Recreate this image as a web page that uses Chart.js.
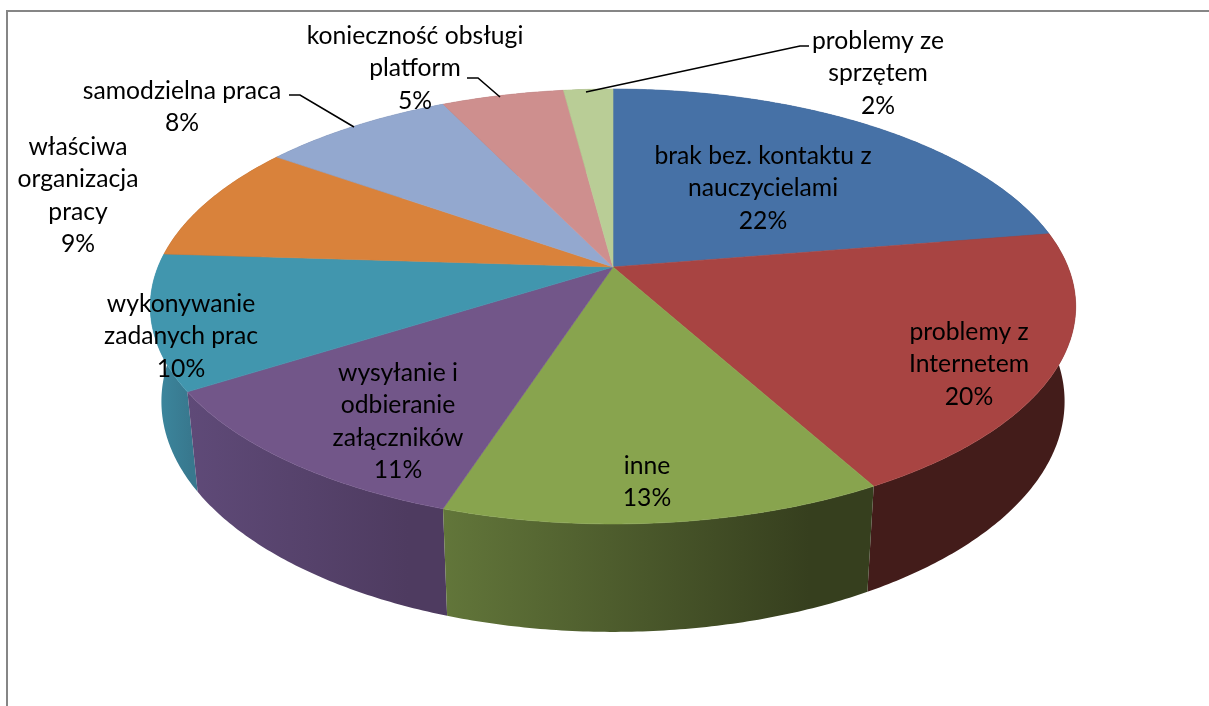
<!DOCTYPE html>
<html>
<head>
<meta charset="utf-8">
<title>Wykres</title>
<script src="https://cdn.jsdelivr.net/npm/chart.js@4"></script>
<style>
    html, body { margin: 0; padding: 0; background: #fff; overflow: hidden; }
    #frame { position: absolute; left: 6px; top: 10px; width: 1203px; height: 696px; border-top: 2px solid #868686; border-left: 2px solid #868686; box-sizing: border-box; }
    canvas { position: absolute; left: 0; top: 0; }
</style>
</head>
<body>
<div id="frame"></div>
<canvas id="chart" width="1209" height="706"></canvas>
<script>
const categories = [
    'brak bez. kontaktu z nauczycielami',
    'problemy z Internetem',
    'inne',
    'wysyłanie i odbieranie załączników',
    'wykonywanie zadanych prac',
    'właściwa organizacja pracy',
    'samodzielna praca',
    'konieczność obsługi platform',
    'problemy ze sprzętem'
];
// labels round these to whole percents
const percents = [22.4, 19.6, 13, 11, 10, 8.8, 8.05, 5.1, 2.05];

const topColors = ['#4671a6', '#a84442', '#88a44e', '#725689', '#4196ae', '#d9823b', '#93a8cf', '#ce8f8e', '#b9cd96'];
// side wall shading, left to right
const wallLeft = ['#2b4565', '#431c1a', '#62763a', '#5f4a78', '#3d8aa1', '#8a5225', '#5d6b84', '#835b5a', '#75825f'];
const wallRight = ['#2b4565', '#431c1a', '#363f1e', '#4e3b60', '#38788e', '#8a5225', '#5d6b84', '#835b5a', '#75825f'];

// label text is wrapped the same way as the original
const labelLines = [
    ['brak bez. kontaktu z', 'nauczycielami'],
    ['problemy z', 'Internetem'],
    ['inne'],
    ['wysyłanie i', 'odbieranie', 'załączników'],
    ['wykonywanie', 'zadanych prac'],
    ['właściwa', 'organizacja', 'pracy'],
    ['samodzielna praca'],
    ['konieczność obsługi', 'platform'],
    ['problemy ze', 'sprzętem']
];
// [center x, first line y]
const labelSpots = [[763, 156], [969, 332], [647, 466], [398, 373], [181, 304], [78, 147], [182, 91], [415, 36], [878, 41]];
const leaders = [
    [[289, 95], [300, 95], [354, 127]],
    [[467, 78], [478, 78], [500, 97]],
    [[809, 46], [800, 46], [586, 92]]
];

// perspective of the disc, fitted to the picture
const apexX = 613, apexY = 267, spreadX = 455, spreadY = 210.3, tilt = 0.1816;
const LINE_HEIGHT = 32.4;

function project(angle) {
    const x = Math.cos(angle), y = -Math.sin(angle);
    const d = 1 + tilt * y;
    return [apexX + spreadX * x / d, apexY - spreadY * y / d];
}

function lower(p) {
    return [apexX + 0.976 * (p[0] - apexX), 1.06 * p[1] + 76.5];
}

function rim(start, end) {
    const pts = [];
    const n = Math.max(2, Math.ceil((end - start) / 0.01));
    for (let i = 0; i <= n; i++) {
        pts.push(project(start + (end - start) * i / n));
    }
    return pts;
}

const pie3d = {
    id: 'pie3d',
    beforeDatasetsDraw(chart) {
        const ctx = chart.ctx;
        const arcs = chart.getDatasetMeta(0).data;

        // walls first, far slices before near ones
        const order = arcs.map((a, i) => i).sort((a, b) =>
            Math.sin((arcs[a].startAngle + arcs[a].endAngle) / 2) - Math.sin((arcs[b].startAngle + arcs[b].endAngle) / 2));
        order.forEach(i => {
            const pts = rim(arcs[i].startAngle, arcs[i].endAngle);
            const low = pts.map(lower);
            const xs = pts.concat(low).map(p => p[0]);
            const x0 = Math.min(...xs), x1 = Math.max(...xs);
            const g = ctx.createLinearGradient(x0, 0, x1, 0);
            g.addColorStop(0, wallLeft[i]);
            g.addColorStop(0.85, wallRight[i]);
            g.addColorStop(1, wallRight[i]);
            ctx.beginPath();
            pts.forEach((p, k) => k ? ctx.lineTo(p[0], p[1]) : ctx.moveTo(p[0], p[1]));
            low.reverse().forEach(p => ctx.lineTo(p[0], p[1]));
            ctx.closePath();
            ctx.fillStyle = g;
            ctx.fill();
        });

        // top faces
        arcs.forEach((arc, i) => {
            ctx.beginPath();
            ctx.moveTo(apexX, apexY);
            rim(arc.startAngle, arc.endAngle).forEach(p => ctx.lineTo(p[0], p[1]));
            ctx.closePath();
            ctx.fillStyle = topColors[i];
            ctx.strokeStyle = topColors[i];
            ctx.lineWidth = 0.6;
            ctx.fill();
            ctx.stroke();
        });

        // leader lines
        ctx.strokeStyle = '#000';
        ctx.lineWidth = 1.6;
        leaders.forEach(line => {
            ctx.beginPath();
            line.forEach((p, k) => k ? ctx.lineTo(p[0], p[1]) : ctx.moveTo(p[0], p[1]));
            ctx.stroke();
        });

        // labels
        ctx.fillStyle = '#000';
        ctx.font = '24.7px Lato';
        ctx.textAlign = 'center';
        ctx.textBaseline = 'middle';
        labelLines.forEach((lines, i) => {
            const rows = lines.concat(Math.round(percents[i]) + '%');
            rows.forEach((t, k) => ctx.fillText(t, labelSpots[i][0], labelSpots[i][1] + k * LINE_HEIGHT));
        });
        return false;
    }
};

new Chart(document.getElementById('chart'), {
    type: 'pie',
    data: {
        labels: categories,
        datasets: [{ data: percents, backgroundColor: topColors }]
    },
    options: {
        responsive: false,
        animation: false,
        plugins: { legend: { display: false }, tooltip: { enabled: false } }
    },
    plugins: [pie3d]
});
</script>
</body>
</html>
